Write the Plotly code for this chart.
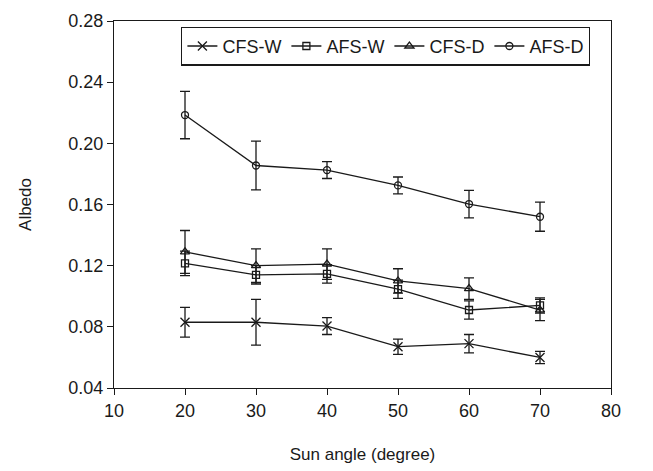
import plotly.graph_objects as go

angles = [20, 30, 40, 50, 60, 70]

cfs_w = [0.083, 0.083, 0.0805, 0.067, 0.069, 0.060]
cfs_w_err = [0.0097, 0.015, 0.0055, 0.005, 0.006, 0.004]

afs_w = [0.1215, 0.114, 0.1146, 0.1046, 0.091, 0.094]
afs_w_err = [0.008, 0.006, 0.006, 0.006, 0.006, 0.005]

cfs_d = [0.129, 0.120, 0.121, 0.110, 0.105, 0.091]
cfs_d_err = [0.014, 0.011, 0.010, 0.008, 0.007, 0.007]

afs_d = [0.2185, 0.1855, 0.1825, 0.1725, 0.1603, 0.152]
afs_d_err = [0.0155, 0.016, 0.0055, 0.0055, 0.009, 0.0095]

series = [
    ("CFS-W", cfs_w, cfs_w_err, "x-thin-open", 9),
    ("AFS-W", afs_w, afs_w_err, "square-open", 7),
    ("CFS-D", cfs_d, cfs_d_err, "triangle-up-open", 8),
    ("AFS-D", afs_d, afs_d_err, "circle-open", 7),
]

ink = "#1a1a1a"
fam = "Liberation Sans, Arial, sans-serif"
fig = go.Figure()
for name, vals, errs, sym, sz in series:
    fig.add_trace(go.Scatter(
        x=angles, y=vals, name=name, mode="lines+markers",
        line=dict(color=ink, width=1.3),
        marker=dict(symbol=sym, size=sz, color=ink, line=dict(color=ink, width=1.3)),
        error_y=dict(type="data", array=errs, visible=True, color=ink, thickness=1.3, width=5),
    ))

axis_common = dict(
    showline=True, linecolor=ink, linewidth=1.3, mirror=True,
    ticks="outside", ticklen=6, tickcolor=ink, tickwidth=1.3,
    showgrid=False, zeroline=False,
    tickfont=dict(family=fam, size=18, color=ink),
)

fig.update_layout(
    width=645, height=463,
    margin=dict(l=106, r=42, t=13, b=83),
    paper_bgcolor="white", plot_bgcolor="white",
    font=dict(family=fam, size=17, color=ink),
    xaxis=dict(range=[10, 80], tickvals=[10, 20, 30, 40, 50, 60, 70, 80],
               title=dict(text="Sun angle (degree)", standoff=28,
                          font=dict(size=17)), automargin=False, **axis_common),
    yaxis=dict(range=[0.04, 0.28], tickvals=[0.04, 0.08, 0.12, 0.16, 0.20, 0.24, 0.28],
               tickformat=".2f",
               title=dict(text="Albedo", standoff=32, font=dict(size=17)),
               automargin=False, **axis_common),
    legend=dict(orientation="h", x=0.135, y=0.985, xanchor="left", yanchor="top",
                bordercolor=ink, borderwidth=1.3, bgcolor="white",
                font=dict(size=18), itemwidth=30, tracegroupgap=0),
    showlegend=True,
)

fig.write_html("out.html")
